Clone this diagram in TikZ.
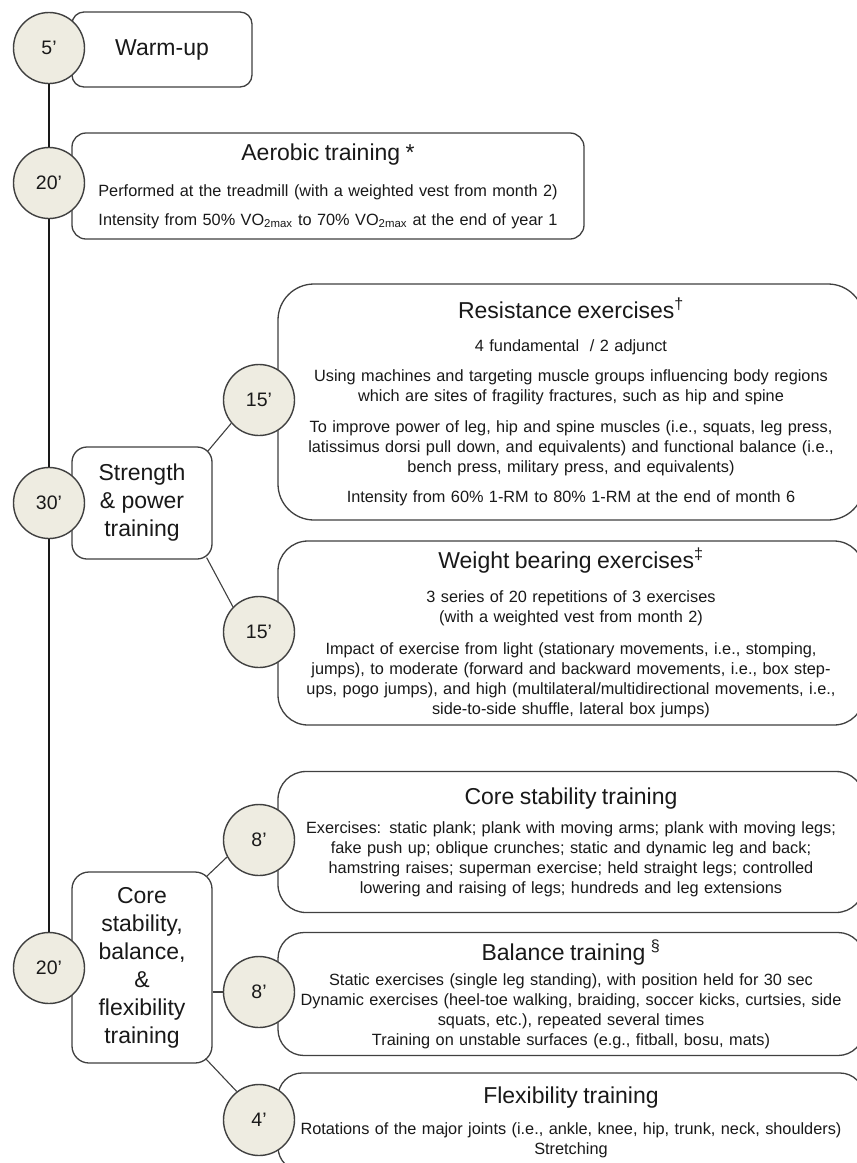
\documentclass[tikz,border=0pt]{standalone}
\usepackage{fontspec}
\setmainfont{Liberation Sans}
\definecolor{Tan}{RGB}{238,236,225}
\definecolor{EdgeGray}{RGB}{64,64,64}
\definecolor{InkGray}{RGB}{25,25,25}
\newcommand{\bodysize}{\fontsize{16.3}{20}\selectfont}
\newcommand{\bigsize}{\fontsize{23}{28}\selectfont}
\tikzset{
  minutes/.style={circle,draw=EdgeGray,fill=Tan,line width=1.4pt,
    minimum size=71pt,inner sep=0pt,text=InkGray,font=\fontsize{19.5}{22}\selectfont},
  phase/.style={draw=EdgeGray,fill=white,line width=1.3pt,rounded corners=15pt,
    align=center,text=InkGray,font=\bigsize},
  detail/.style={draw=EdgeGray,fill=white,line width=1.3pt,rounded corners=28pt,
    align=center,inner sep=2pt,text=InkGray,font=\bodysize},
  wide/.style={detail,text width=580pt,minimum width=586pt},
  trunk/.style={line width=1.3pt,InkGray},
  branch/.style={line width=1.1pt,EdgeGray}
}

\begin{document}
\begin{tikzpicture}[x=1pt,y=-1pt]
          \useasboundingbox (0,0) rectangle (857,1163);
          \clip (0,0) rectangle (857,1163);
          \fill[white] (0,0) rectangle (857,1163);
          \node[phase,minimum width=180pt,minimum height=75pt,rounded corners=12pt]
            (warmup) at (162,49.5) {Warm-up};
          \node[detail,rounded corners=14pt,text width=505pt,minimum width=512pt,minimum height=106pt]
            (aerobic) at (328,186) {{\bigsize Aerobic training *}\\[16pt]
            Performed at the treadmill (with a weighted vest from month 2)\\[9pt]
            Intensity from 50\% VO\textsubscript{2max} to 70\% VO\textsubscript{2max} at the end of year 1};
          \node[phase,minimum width=140pt,minimum height=112pt]
            (strength) at (142,503) {Strength\\\& power\\training};
          \node[wide,minimum height=236pt,rounded corners=36pt]
            (resist) at (571,402) {{\bigsize Resistance exercises\textsuperscript{†}}\\[13pt]
            4 fundamental~ / 2 adjunct\\[10pt]
            Using machines and targeting muscle groups influencing body regions\\
            which are sites of fragility fractures, such as hip and spine\\[11pt]
            To improve power of leg, hip and spine muscles (i.e., squats, leg press,\\
            latissimus dorsi pull down, and equivalents) and functional balance (i.e.,\\
            bench press, military press, and equivalents)\\[10pt]
            Intensity from 60\% 1-RM to 80\% 1-RM at the end of month 6};
          \node[wide,minimum height=184pt,rounded corners=30pt]
            (weight) at (571,633) {{\bigsize Weight bearing exercises\textsuperscript{‡}}\\[14pt]
            3 series of 20 repetitions of 3 exercises\\
            (with a weighted vest from month 2)\\[12pt]
            Impact of exercise from light (stationary movements, i.e., stomping,\\
            jumps), to moderate (forward and backward movements, i.e., box step-\\
            ups, pogo jumps), and high (multilateral/multidirectional movements, i.e.,\\
            side-to-side shuffle, lateral box jumps)};
          \node[phase,minimum width=140pt,minimum height=191pt,rounded corners=17pt]
            (core) at (142,967.5) {Core\\stability,\\balance,\\\&\\flexibility\\training};
          \node[wide,minimum height=141pt]
            (corestab) at (571,842) {{\bigsize Core stability training}\\[9pt]
            Exercises: static plank; plank with moving arms; plank with moving legs;\\
            fake push up; oblique crunches; static and dynamic leg and back;\\
            hamstring raises; superman exercise; held straight legs; controlled\\
            lowering and raising of legs; hundreds and leg extensions};
          \node[wide,minimum height=123pt,rounded corners=26pt]
            (balance) at (571,994) {{\bigsize Balance training~\textsuperscript{§}}\\[5pt]
            Static exercises (single leg standing), with position held for 30 sec\\
            Dynamic exercises (heel-toe walking, braiding, soccer kicks, curtsies, side\\
            squats, etc.), repeated several times\\
            Training on unstable surfaces (e.g., fitball, bosu, mats)};
          \node[wide,minimum height=98pt,rounded corners=24pt]
            (flex) at (571,1122) {{\bigsize Flexibility training}\\[11pt]
            Rotations of the major joints (i.e., ankle, knee, hip, trunk, neck, shoulders)\\
            Stretching};
          \node[minutes] (c5) at (49,48) {5’};
          \node[minutes] (c20a) at (49,183) {20’};
          \node[minutes] (c30) at (49,503) {30’};
          \node[minutes] (c20b) at (49,968) {20’};
          \node[minutes] (c15a) at (259,400) {15’};
          \node[minutes] (c15b) at (259,632) {15’};
          \node[minutes] (c8a) at (259,840) {8’};
          \node[minutes] (c8b) at (259,992) {8’};
          \node[minutes] (c4) at (259,1120) {4’};
          \draw[trunk] (c5) -- (c20a) -- (c30) -- (c20b);
          \draw[branch] ([shift={(-5pt,-5pt)}]strength.north east) -- (c15a.220);
          \draw[branch] ([shift={(-6pt,2pt)}]strength.south east) -- (c15b.136);
          \draw[branch] ([shift={(-6pt,-5pt)}]core.north east) -- (c8a.208);
          \draw[branch] (core.east |- c8b.west) -- (c8b.west);
          \draw[branch] ([shift={(-7pt,5pt)}]core.south east) -- (c4.128);
        \end{tikzpicture}
\end{document}
